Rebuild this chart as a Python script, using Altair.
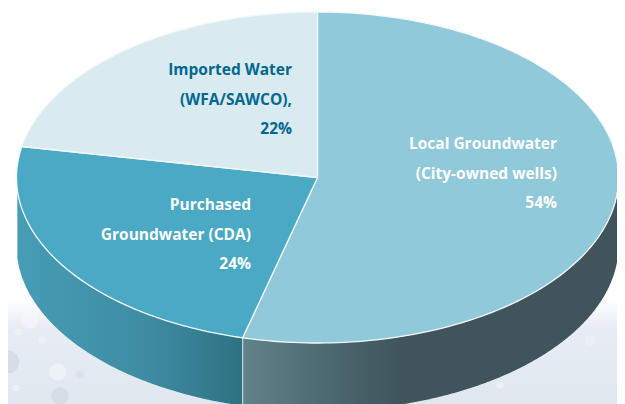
import altair as alt
import numpy as np
import pandas as pd

# Data
names = ["Local Groundwater", "Purchased Groundwater", "Imported Water"]
shares = [54, 24, 22]
top_fills = ["#90c9d9", "#4aa9c4", "#d9eaf0"]
label_lines = [
    ["Local Groundwater", "(City-owned wells)", "54%"],
    ["Purchased", "Groundwater (CDA)", "24%"],
    ["Imported Water", "(WFA/SAWCO),", "22%"],
]
label_colors = ["#ffffff", "#ffffff", "#00688f"]

# Layout (picture units)
CX, CY, RX, RY, DEPTH = 317.5, 177.5, 301.0, 165.5, 68.0
label_right = [557, 251, 292]
label_first = [144, 205, 70]
label_step = 29.7
X_DOM = [8, 617]
Y_DOM = [404, 8]

x_s = alt.Scale(domain=X_DOM, nice=False, zero=False)
y_s = alt.Scale(domain=Y_DOM, nice=False, zero=False)
X = alt.X("x:Q", scale=x_s, axis=None)
Y = alt.Y("y:Q", scale=y_s, axis=None)

cum = np.concatenate([[0], np.cumsum(shares)]) / 100 * 2 * np.pi


def ell(t):
    return CX + RX * np.sin(t), CY - RY * np.cos(t)


def wedge(a, b):
    t = np.linspace(a, b, 160)
    xs, ys = ell(t)
    xs = np.concatenate([[CX], xs, [CX]])
    ys = np.concatenate([[CY], ys, [CY]])
    return pd.DataFrame({"x": xs, "y": ys, "i": np.arange(len(xs))})


def wall(a, b):
    t = np.linspace(a, b, 200)
    xs, ys = ell(t)
    return pd.DataFrame({"x": xs, "y": ys, "y2": ys + DEPTH})


layers = []

# Water backdrop
water = pd.DataFrame({"x": [X_DOM[0]], "x2": [X_DOM[1]], "y": [300], "y2": [404]})
layers.append(
    alt.Chart(water)
    .mark_rect(
        color=alt.LinearGradient(
            gradient="linear", x1=0, x2=0, y1=0, y2=1,
            stops=[
                alt.GradientStop(color="#ffffff", offset=0),
                alt.GradientStop(color="#e8edf4", offset=0.25),
                alt.GradientStop(color="#dfe7ef", offset=1),
            ],
        )
    )
    .encode(X, alt.X2("x2:Q"), Y, alt.Y2("y2:Q"))
)

drops = pd.DataFrame({
    "x": [8, 18, 42, 58, 80, 60, 16, 560, 590, 500, 30],
    "y": [362, 332, 340, 372, 375, 396, 388, 330, 340, 385, 320],
    "s": [500, 50, 60, 300, 70, 300, 50, 150, 120, 50, 300],
    "c": ["#c9d1dc", "#f2f6f9", "#f2f6f9", "#f6f9fb", "#d5dde6", "#ccd4de", "#f6f9fb",
          "#d3dbe4", "#f0f4f8", "#f4f7fa", "#f6f9fb"],
})
layers.append(
    alt.Chart(drops)
    .mark_point(filled=True, opacity=0.55, clip=True)
    .encode(X, Y, alt.Size("s:Q", scale=None), alt.Color("c:N", scale=None))
)

# Side walls
right_wall = alt.LinearGradient(
    gradient="linear", x1=0, x2=1, y1=0, y2=0,
    stops=[
        alt.GradientStop(color="#62838b", offset=0),
        alt.GradientStop(color="#4d6a72", offset=0.21),
        alt.GradientStop(color="#3f555b", offset=0.42),
        alt.GradientStop(color="#3f555b", offset=1),
    ],
)
left_wall = alt.LinearGradient(
    gradient="linear", x1=0, x2=1, y1=0, y2=0,
    stops=[
        alt.GradientStop(color="#469db5", offset=0),
        alt.GradientStop(color="#3d8ba1", offset=0.6),
        alt.GradientStop(color="#2f7183", offset=1),
    ],
)
layers.append(
    alt.Chart(wall(np.pi / 2, cum[1]))
    .mark_area(color=right_wall, clip=True)
    .encode(X, Y, alt.Y2("y2:Q"))
)
layers.append(
    alt.Chart(wall(cum[1], 1.5 * np.pi - 0.075))
    .mark_area(color=left_wall, clip=True)
    .encode(X, Y, alt.Y2("y2:Q"))
)
sx, sy = ell(cum[1])
layers.append(
    alt.Chart(pd.DataFrame({"x": [sx], "y": [sy], "y2": [sy + DEPTH]}))
    .mark_rule(color="#c4d6da", strokeWidth=1.2, clip=True)
    .encode(X, Y, alt.Y2("y2:Q"))
)

# Top slices
for k in range(3):
    layers.append(
        alt.Chart(wedge(cum[k], cum[k + 1]))
        .mark_line(fill=top_fills[k], stroke="#f2f8fa", strokeWidth=1.3, strokeJoin="round")
        .encode(X, Y, alt.Order("i:Q"))
    )

# Labels
rows = []
for k, lines in enumerate(label_lines):
    for j, t in enumerate(lines):
        rows.append({"x": label_right[k], "y": label_first[k] + j * label_step, "t": t, "c": label_colors[k]})
layers.append(
    alt.Chart(pd.DataFrame(rows))
    .mark_text(align="right", baseline="middle", font="Open Sans", fontWeight="bold", fontSize=15.5)
    .encode(X, Y, alt.Text("t:N"), alt.Color("c:N", scale=None))
)

chart = (
    alt.layer(*layers)
    .properties(width=609, height=396, padding=0, autosize=alt.AutoSizeParams(type="none"))
    .configure_view(stroke=None)
)
chart.save("out.html", embed_options={"renderer": "svg", "actions": False})
